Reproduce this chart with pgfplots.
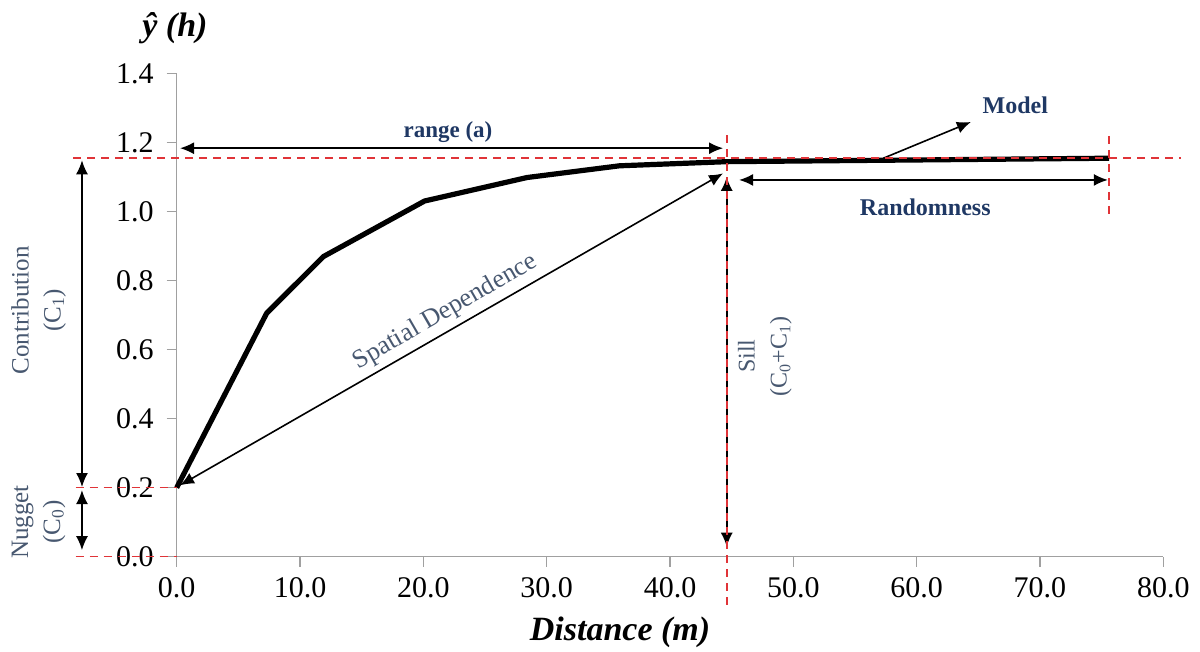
\documentclass[border=0pt]{standalone}
\usepackage{fontspec}
\setmainfont{Liberation Serif}
\usepackage{pgfplots}
\pgfplotsset{compat=1.18}
\usetikzlibrary{arrows.meta}
\definecolor{navy}{RGB}{31,56,100}
\definecolor{slate}{RGB}{72,88,112}
\definecolor{dred}{RGB}{224,52,56}
\definecolor{axgray}{RGB}{160,160,160}
\begin{document}
\begin{tikzpicture}
\path[use as bounding box] (-88.35pt,-47.65pt) rectangle (511.65pt,278.35pt);
\begin{axis}[
  at={(0pt,0pt)}, anchor=south west,
  scale only axis, width=493.3pt, height=241.5pt,
  xmin=0, xmax=80, ymin=0, ymax=1.4,
  axis x line=bottom, axis y line=left,
  axis line style={draw=axgray, line width=0.75pt, -},
  xtick={0,10,...,80}, ytick={0,0.2,0.4,0.6,0.8,1.0,1.2,1.4},
  tick align=outside, major tick length=5pt,
  tick style={draw=axgray, line width=0.75pt},
  ticklabel style={font=\fontsize{15}{18}\selectfont},
  yticklabel style={xshift=-3pt},
  xticklabel style={yshift=-2pt},
  /pgf/number format/.cd, fixed, fixed zerofill, precision=1, assume math mode=true,
  /pgfplots/.cd,
  clip=false,
]
\addplot[black, line width=2.6pt, line join=round] coordinates {
  (0,0.2) (7.3,0.706) (11.9,0.870) (20.1,1.031) (28.4,1.099) (35.9,1.133) (44.6,1.145) (75.6,1.155)
};

% arrows
\tikzset{arr/.style={black, line width=0.8pt, {Latex[length=7pt,width=6pt]}-{Latex[length=7pt,width=6pt]}}}
\draw[arr] (axis cs:0.27,1.184) -- (axis cs:44.3,1.184);
\draw[arr] (axis cs:45.6,1.092) -- (axis cs:75.5,1.092);
\draw[arr] (axis cs:0.27,0.207) -- (axis cs:44.3,1.111);
\draw[arr] (axis cs:44.6,1.101) -- (axis cs:44.6,0.029);
\draw[arr] (axis cs:-7.68,1.149) -- (axis cs:-7.68,0.202);
\draw[arr] (axis cs:-7.68,0.193) -- (axis cs:-7.68,0.019);
\draw[black, line width=0.8pt, -{Latex[length=7pt,width=6pt]}] (axis cs:57.3,1.155) -- (axis cs:64.4,1.26);

% red dashed guides
\tikzset{rd/.style={dred, line width=0.8pt, dash pattern=on 4pt off 3pt}}
\draw[rd] (axis cs:-8.4,1.155) -- (axis cs:81.4,1.155);
\draw[rd] (axis cs:-8.2,0.2) -- (axis cs:0,0.2);
\draw[rd] (axis cs:-8.2,0.0) -- (axis cs:0,0.0);
\draw[rd] (axis cs:44.6,1.222) -- (axis cs:44.6,-0.14);
\draw[rd] (axis cs:75.6,1.22) -- (axis cs:75.6,0.985);

% labels
\node[navy, font=\fontsize{11.5}{14}\selectfont\bfseries] at (axis cs:22,1.232) {range (a)};
\node[navy, font=\fontsize{12}{14}\selectfont\bfseries] at (axis cs:68.0,1.309) {Model};
\node[navy, font=\fontsize{12}{14}\selectfont\bfseries] at (axis cs:60.7,1.014) {Randomness};
\node[slate, rotate=30, font=\fontsize{13}{15}\selectfont] at (axis cs:21.8,0.709) {Spatial Dependence};
\node[slate, rotate=90, align=center, font=\fontsize{12}{16}\selectfont] at (axis cs:47.7,0.581) {Sill\\(C\textsubscript{0}+C\textsubscript{1})};
\node[slate, rotate=90, align=center, font=\fontsize{12.5}{16}\selectfont] at (axis cs:-11.2,0.714) {Contribution\\(C\textsubscript{1})};
\node[slate, rotate=90, align=center, font=\fontsize{12.5}{16}\selectfont] at (axis cs:-11.2,0.10) {Nugget\\(C\textsubscript{0})};
\node[font=\fontsize{17}{20}\selectfont\bfseries\itshape] at (axis cs:35.95,-0.218) {Distance (m)};
\node[font=\fontsize{17}{20}\selectfont\bfseries\itshape] at (axis cs:-0.14,1.532) {ŷ (h)};
\end{axis}
\end{tikzpicture}
\end{document}
